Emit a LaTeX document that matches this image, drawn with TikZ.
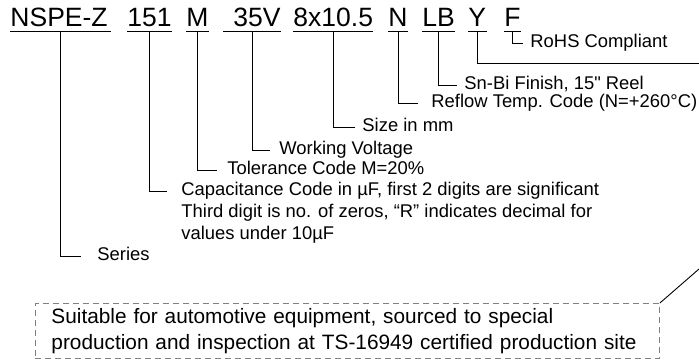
\documentclass[tikz,border=0pt]{standalone}
\usepackage{fontspec}
\setmainfont{Liberation Sans}
\usepackage{tikz}

\begin{document}
\begin{tikzpicture}[x=1pt, y=-1pt, line width=0.9pt,
    code/.style={font=\fontsize{26.5}{30}\selectfont, anchor=base west,
      inner sep=0pt, text depth=4pt},
    lbl/.style={font=\fontsize{18.4}{21}\selectfont, anchor=west,
      inner xsep=7pt, inner ysep=2.75pt, text height=12pt, text depth=4pt},
    note/.style={font=\fontsize{20.8}{26}\selectfont, align=left, text width=592pt,
      draw=gray, dash pattern=on 6pt off 4pt, inner xsep=16pt, inner ysep=5pt}]
    \useasboundingbox (0,0) rectangle (699,364);

    % part number
    \node[code] (ser) at (10,27) {NSPE-Z\kern3pt};
    \node[code] (cap) at (127,27) {151};
    \node[code] (tol) at (186,27) {M};
    \node[code] (volt) at (223,27) {\kern10pt 35V};
    \node[code] (size) at (293,27) {8x10.5};
    \node[code] (temp) at (388,27) {N};
    \node[code] (fin) at (422,27) {LB};
    \node[code] (auto) at (468,27) {Y};
    \node[code] (rohs) at (504,27) {F};
    \foreach \n in {ser,cap,tol,volt,size,temp,fin,auto,rohs}
      \draw (\n.south west) -- (\n.south east);

    % labels
    \node[lbl] (rohsl) at (523,43) {RoHS Compliant};
    \node[lbl, inner ysep=0pt] (finl) at (457,85) {Sn-Bi Finish, 15\textquotedbl{} Reel};
    \node[lbl, inner ysep=0pt, inner xsep=13pt] (templ) at (418,103) {Reflow Temp. Code (N=+260°C)};
    \node[lbl] (sizel) at (355,127) {Size in mm};
    \node[lbl, inner xsep=9pt] (voltl) at (270,150) {Working Voltage};
    \node[lbl, inner xsep=10pt] (toll) at (217,170) {Tolerance Code M=20\%};
    \node[lbl, inner xsep=14pt] (capl) at (167,191) {Capacitance Code in µF, first 2 digits are significant};
    \node[lbl, inner xsep=14pt, anchor=north west] (capl2) at (capl.south west) {Third digit is no. of zeros, “R” indicates decimal for};
    \node[lbl, inner xsep=14pt, anchor=north west] (capl3) at (capl2.south west) {values under 10µF};
    \node[lbl, inner xsep=16pt] (serl) at (81,256) {Series};

    \draw (rohs.south) |- (rohsl.west);
    \draw (fin.south) |- (finl.west);
    \draw (temp.south) |- (templ.west);
    \draw (size.south) |- (sizel.west);
    \draw (volt.south) |- (voltl.west);
    \draw (tol.south) |- (toll.west);
    \draw (cap.south) |- (capl.west);
    \draw (ser.south) |- (serl.west);

    % automotive grade
    \coordinate (autoend) at (699,63);
    \draw (auto.south) |- (autoend);
    \node[note, anchor=north west] (note) at (35,303) {Suitable for automotive equipment, sourced to special\\production and inspection at TS-16949 certified production site};
    \coordinate (noteend) at (699,269);
    \draw (note.north east) -- (noteend);
\end{tikzpicture}
\end{document}
